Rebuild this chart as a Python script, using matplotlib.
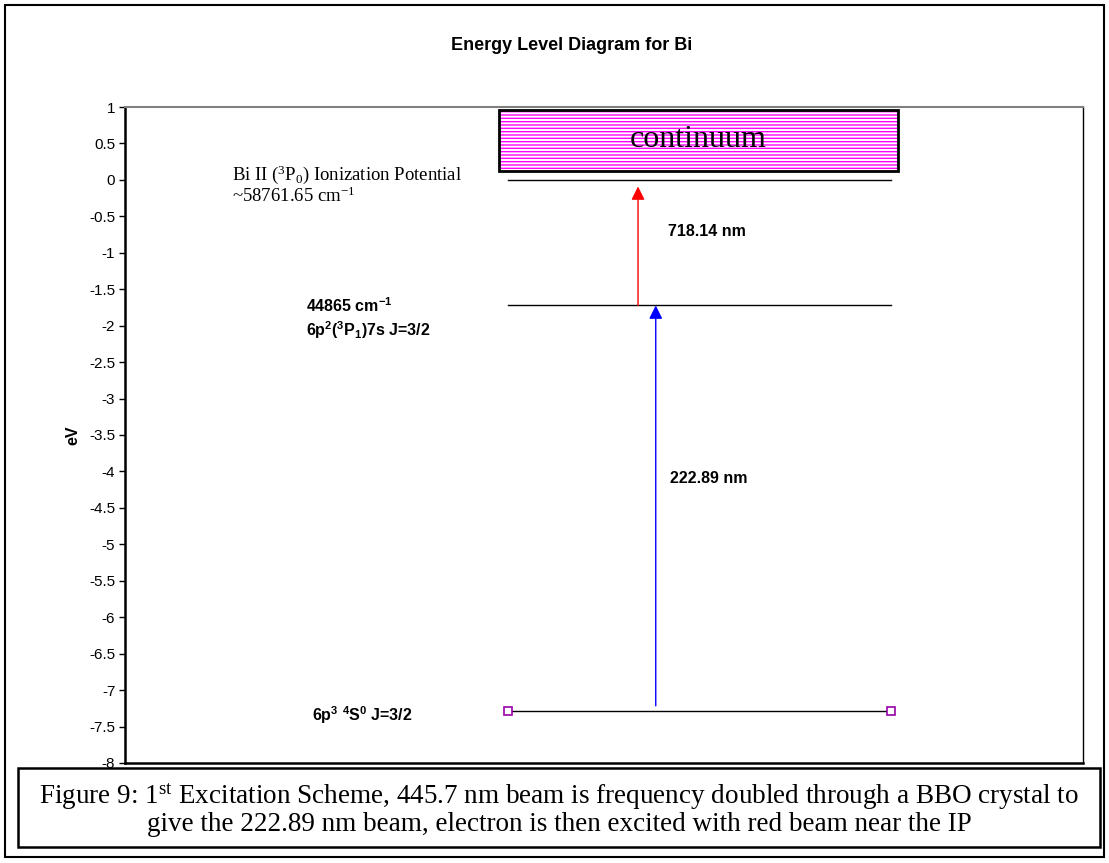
#!/usr/bin/env python3

import matplotlib
matplotlib.use("Agg")
import matplotlib.pyplot as plt
from matplotlib.patches import Rectangle

# Bi energy levels in cm^-1, plotted relative to the ionization potential
ip_cm = 58761.65
level_cm = [0.0, 44865.0]          # ground 6p3 4S0, excited 6p2(3P1)7s
cm_to_ev = 1.23984e-4
wavelengths_nm = [222.89, 718.14]  # blue step, red step

level_ev = [(c - ip_cm) * cm_to_ev for c in level_cm] + [0.0]
yticks = [1 - 0.5 * i for i in range(19)]

plt.rcParams["font.family"] = ["Liberation Sans", "DejaVu Sans"]
plt.rcParams["mathtext.default"] = "regular"
plt.rcParams["axes.unicode_minus"] = False
plt.rcParams["hatch.linewidth"] = 1.0

fig = plt.figure(figsize=(11.09, 8.63), dpi=100)

# outer frame and caption box
fig.patches.append(Rectangle((0.0045, 0.007), 0.991, 0.987, transform=fig.transFigure,
                             fill=False, edgecolor="black", linewidth=1.5))
fig.patches.append(Rectangle((0.0162, 0.0185), 0.9757, 0.0915, transform=fig.transFigure,
                             fill=False, edgecolor="black", linewidth=1.8))

ax = fig.add_axes([0.1127, 0.1159, 0.8639, 0.7601])
ax.set_xlim(0, 1)
ax.set_ylim(-8, 1)
ax.set_yticks(yticks)
ax.set_yticklabels([f"{t:g}" for t in yticks], fontsize=11)
ax.set_xticks([])
ax.tick_params(axis="y", direction="out", length=4, width=1, pad=3)
ax.spines["left"].set_linewidth(1.8)
ax.spines["bottom"].set_linewidth(1.8)
ax.spines["top"].set_color("#808080")
ax.spines["top"].set_linewidth(1.5)
ax.spines["right"].set_linewidth(1.0)
ax.set_ylabel("eV", fontsize=11.5, fontweight="bold", labelpad=6)

fig.text(0.515, 0.947, "Energy Level Diagram for Bi", ha="center", va="center",
         fontsize=13, fontweight="bold")

# energy levels
ground, excited, ion = level_ev
ax.plot([0.4, 0.8], [ground, ground], color="black", linewidth=1.0,
        marker="s", markersize=6, markerfacecolor="white",
        markeredgecolor="#9900aa", markeredgewidth=1.2, zorder=3)
ax.plot([0.4, 0.8], [excited, excited], color="black", linewidth=1.0)
ax.plot([0.4, 0.8], [ion, ion], color="black", linewidth=1.0)

# continuum above the IP: magenta hatching inside a black frame
ax.add_patch(Rectangle((0.39, 0.12), 0.417, 0.84, facecolor="white",
                       edgecolor="#ff00ff", linewidth=0, hatch="-----"))
ax.add_patch(Rectangle((0.39, 0.12), 0.417, 0.84, fill=False,
                       edgecolor="black", linewidth=2.0))
ax.text(0.598, 0.55, "continuum", ha="center", va="center", fontsize=23,
        family="Liberation Serif")

# excitation steps
ax.annotate("", xy=(0.554, excited), xytext=(0.554, ground + 0.07),
            arrowprops=dict(arrowstyle="-|>", color="#0000ff", lw=1.0,
                            mutation_scale=20, shrinkA=0, shrinkB=0))
ax.annotate("", xy=(0.5355, ion - 0.09), xytext=(0.5355, excited),
            arrowprops=dict(arrowstyle="-|>", color="#ff0000", lw=1.0,
                            mutation_scale=20, shrinkA=0, shrinkB=0))
ax.text(0.569, -4.10, f"{wavelengths_nm[0]:.2f} nm", fontsize=11.5,
        fontweight="bold", va="center")
ax.text(0.567, -0.71, f"{wavelengths_nm[1]:.2f} nm", fontsize=11.5,
        fontweight="bold", va="center")

# level labels
ax.text(0.112, 0.07, "Bi II ($^{3}$P$_{0}$) Ionization Potential", fontsize=13.5,
        family="Liberation Serif", va="center")
ax.text(0.112, -0.22, f"~{ip_cm:.2f} cm$^{{-1}}$", fontsize=13.5,
        family="Liberation Serif", va="center")
ax.text(0.189, -1.73, f"{level_cm[1]:.0f} cm$^{{-1}}$", fontsize=11.5,
        fontweight="bold", va="center")
ax.text(0.189, -2.06, "6p$^{2}$($^{3}$P$_{1}$)7s J=3/2", fontsize=11.5,
        fontweight="bold", va="center")
ax.text(0.195, -7.34, "6p$^{3}$ $^{4}$S$^{0}$ J=3/2", fontsize=11.5,
        fontweight="bold", va="center")

# figure caption
fig.text(0.504, 0.077, "Figure 9: 1$^{st}$ Excitation Scheme, 445.7 nm beam is frequency "
         "doubled through a BBO crystal to", ha="center", va="center",
         fontsize=19.5, family="Liberation Serif")
fig.text(0.504, 0.045, "give the 222.89 nm beam, electron is then excited with red "
         "beam near the IP", ha="center", va="center",
         fontsize=19.5, family="Liberation Serif")

fig.savefig("out.png", dpi=100)
